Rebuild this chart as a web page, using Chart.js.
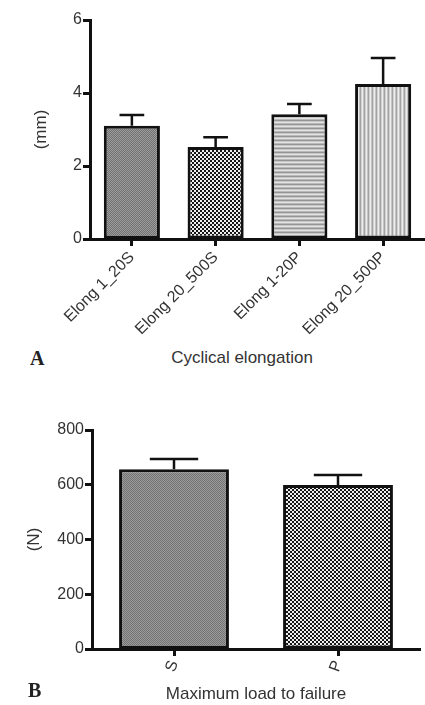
<!DOCTYPE html>
<html>
<head>
<meta charset="utf-8">
<script src="https://cdn.jsdelivr.net/npm/chart.js@4"></script>
<style>
  body { margin: 0; background: #fff; }
  #wrap { position: relative; width: 425px; height: 705px; overflow: hidden; font-family: "Liberation Sans", Arial, sans-serif; }
  #chartA { position: absolute; left: 0; top: 0; }
  #chartB { position: absolute; left: 0; top: 415px; }
  .panel { position: absolute; font: bold 20px "Liberation Serif", "Times New Roman", serif; color: #222; line-height: 20px; }
  .xtitle { position: absolute; font-size: 17px; color: #333; text-align: center; line-height: 20px; }
</style>
</head>
<body>
<div id="wrap">
  <canvas id="chartA" width="425" height="340"></canvas>
  <canvas id="chartB" width="425" height="290"></canvas>
  <div class="panel" style="left:30px; top:348px;">A</div>
  <div class="xtitle" style="left:142px; top:348px; width:200px;">Cyclical elongation</div>
  <div class="panel" style="left:28px; top:680px;">B</div>
</div>
<script>
// panel A: cyclical elongation (mm)
const elongLabels = ["Elong 1_20S", "Elong 20_500S", "Elong 1-20P", "Elong 20_500P"];
const elongMeans = [3.1, 2.52, 3.42, 4.25];
const elongErrors = [0.3, 0.27, 0.28, 0.71];

// panel B: maximum load to failure (N)
const loadLabels = ["S", "P"];
const loadMeans = [657, 599];
const loadErrors = [37, 37];

Chart.defaults.font.family = '"Liberation Sans", Arial, sans-serif';
Chart.defaults.color = "#333";

function makePattern(w, h, paint) {
  const c = document.createElement("canvas");
  c.width = w;
  c.height = h;
  paint(c.getContext("2d"));
  return c.getContext("2d").createPattern(c, "repeat");
}

const finePattern = makePattern(2, 2, (g) => {
  g.fillStyle = "#727272"; g.fillRect(0, 0, 2, 2);
  g.fillStyle = "#9c9c9c"; g.fillRect(0, 0, 1, 1); g.fillRect(1, 1, 1, 1);
});
const checkPattern = makePattern(4, 4, (g) => {
  g.fillStyle = "#151515"; g.fillRect(0, 0, 4, 4);
  g.fillStyle = "#eeeeee"; g.fillRect(0, 0, 2, 2); g.fillRect(2, 2, 2, 2);
});
const hStripes = makePattern(1, 4, (g) => {
  ["#959595", "#c8c8c8", "#e2e2e2", "#b9b9b9"].forEach((col, i) => {
    g.fillStyle = col; g.fillRect(0, i, 1, 1);
  });
});
const vStripes = makePattern(4, 1, (g) => {
  ["#a2a2a2", "#d2d2d2", "#ececec", "#c4c4c4"].forEach((col, i) => {
    g.fillStyle = col; g.fillRect(i, 0, 1, 1);
  });
});

// one-sided (upper) error bars with a cap
const errorBars = {
  id: "errorBars",
  afterDatasetsDraw(chart) {
    const ctx = chart.ctx;
    const ds = chart.data.datasets[0];
    const yScale = chart.scales.y;
    ctx.save();
    ctx.strokeStyle = "#111";
    ctx.lineWidth = 2.5;
    chart.getDatasetMeta(0).data.forEach((bar, i) => {
      const top = yScale.getPixelForValue(ds.data[i] + ds.errors[i]);
      const half = bar.width * 0.22;
      ctx.beginPath();
      ctx.moveTo(bar.x, bar.y);
      ctx.lineTo(bar.x, top);
      ctx.moveTo(bar.x - half, top);
      ctx.lineTo(bar.x + half, top);
      ctx.stroke();
    });
    ctx.restore();
  },
};

function axisGrid() {
  return {
    drawOnChartArea: false,
    drawTicks: true,
    tickLength: 7,
    tickWidth: 3,
    tickColor: "#111",
    offset: false,
  };
}

function buildChart(id, opts) {
  return new Chart(document.getElementById(id), {
    type: "bar",
    data: {
      labels: opts.labels,
      datasets: [
        {
          data: opts.values,
          errors: opts.errors,
          backgroundColor: opts.fills,
          borderColor: "#111",
          borderWidth: 3,
          borderSkipped: false,
          categoryPercentage: 1,
          barPercentage: 0.67,
        },
      ],
    },
    options: {
      responsive: false,
      animation: false,
      devicePixelRatio: 1,
      layout: { padding: opts.padding },
      plugins: { legend: { display: false }, tooltip: { enabled: false } },
      scales: {
        x: {
          border: { color: "#111", width: 3 },
          grid: axisGrid(),
          ticks: {
            font: { size: 16 },
            color: "#333",
            minRotation: opts.rotation,
            maxRotation: opts.rotation,
            autoSkip: false,
            padding: 2,
          },
          title: opts.xTitle
            ? { display: true, text: opts.xTitle, font: { size: 17 }, color: "#333", padding: 0 }
            : { display: false },
          afterFit: (scale) => { scale.height = opts.xHeight; },
        },
        y: {
          min: 0,
          max: opts.max,
          border: { color: "#111", width: 3 },
          grid: axisGrid(),
          ticks: { stepSize: opts.step, font: { size: 16 }, color: "#333", padding: 1 },
          title: {
            display: true,
            text: opts.yTitle,
            font: { size: 17 },
            color: "#333",
            padding: { top: opts.yTitlePad, bottom: 0 },
          },
          afterFit: (scale) => { scale.width = opts.yWidth; },
        },
      },
    },
    plugins: [errorBars],
  });
}

buildChart("chartA", {
  labels: elongLabels,
  values: elongMeans,
  errors: elongErrors,
  fills: [finePattern, checkPattern, hStripes, vStripes],
  max: 6,
  step: 2,
  yTitle: "(mm)",
  yTitlePad: 31,
  yWidth: 90,
  xHeight: 101,
  rotation: 45,
  padding: { top: 20, right: 0, left: 0, bottom: 0 },
});

buildChart("chartB", {
  labels: loadLabels,
  values: loadMeans,
  errors: loadErrors,
  fills: [finePattern, checkPattern],
  max: 800,
  step: 200,
  yTitle: "(N)",
  yTitlePad: 24,
  yWidth: 92,
  xHeight: 56,
  rotation: 70,
  xTitle: "Maximum load to failure",
  padding: { top: 15, right: 5, left: 0, bottom: 0 },
});
</script>
</body>
</html>
